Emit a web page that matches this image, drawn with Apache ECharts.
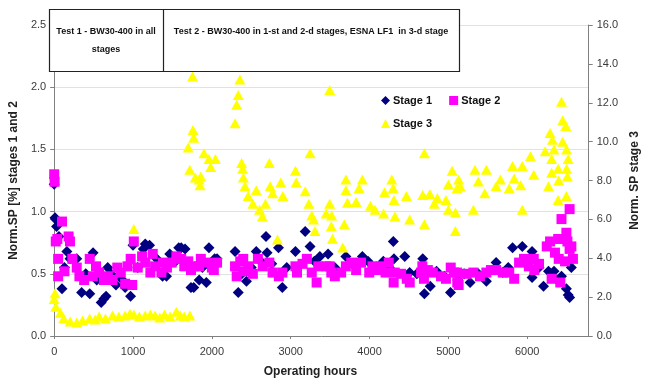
<!DOCTYPE html>
<html><head><meta charset="utf-8">
<script src="https://cdn.jsdelivr.net/npm/echarts@6/dist/echarts.min.js"></script>
<style>html,body{margin:0;padding:0;background:#fff}#c{width:649px;height:383px}</style>
</head><body><div id="c"></div>
<script>
// ---- Data ----
const xTicks = [0, 1000, 2000, 3000, 4000, 5000, 6000];
const leftTicks = [0.0, 0.5, 1.0, 1.5, 2.0, 2.5];
const rightTicks = [0, 2, 4, 6, 8, 10, 12, 14, 16];

const stage1Hours = [0,10,16,30,60,99,130,161,200,286,348,400,451,493,540,596,630,658,679,720,783,850,900,969,1000,1060,1130,1155,1210,1300,1375,1425,1466,1540,1580,1611,1660,1735,1770,1839,1880,1930,1963,2035,2066,2294,2335,2380,2439,2500,2563,2620,2687,2700,2760,2845,2894,2950,3060,3184,3246,3300,3370,3474,3560,3700,3780,3909,3981,4080,4175,4250,4302,4310,4447,4509,4600,4675,4696,4770,4850,4950,5027,5120,5200,5275,5380,5482,5606,5690,5760,5814,5938,6000,6062,6062,6150,6207,6270,6340,6380,6435,6497,6520,6538,6560];
const stage1Values = [1.22,0.95,0.94,0.88,0.80,0.38,0.55,0.68,0.62,0.62,0.35,0.50,0.34,0.67,0.45,0.27,0.30,0.32,0.55,0.50,0.41,0.46,0.39,0.32,0.73,0.55,0.70,0.74,0.73,0.62,0.48,0.48,0.66,0.60,0.71,0.71,0.70,0.39,0.39,0.45,0.55,0.43,0.71,0.62,0.62,0.68,0.35,0.50,0.44,0.55,0.68,0.60,0.80,0.67,0.58,0.71,0.39,0.55,0.68,0.84,0.72,0.60,0.64,0.66,0.55,0.64,0.58,0.64,0.60,0.55,0.60,0.55,0.76,0.62,0.64,0.51,0.50,0.62,0.34,0.40,0.52,0.48,0.35,0.45,0.50,0.43,0.50,0.44,0.59,0.51,0.55,0.71,0.72,0.58,0.68,0.47,0.55,0.40,0.52,0.52,0.45,0.48,0.38,0.33,0.31,0.55];

const stage2Hours = [0,5,20,40,50,50,99,130,183,200,230,286,320,380,451,490,530,570,630,680,740,800,845,900,930,970,990,1010,1060,1115,1155,1220,1250,1280,1360,1380,1430,1490,1550,1611,1650,1700,1735,1776,1839,1860,1940,2000,2025,2066,2294,2315,2360,2398,2400,2460,2520,2584,2646,2729,2770,2850,2894,3060,3080,3150,3205,3267,3329,3350,3453,3495,3515,3560,3640,3700,3768,3830,3892,3996,4037,4100,4140,4203,4244,4306,4320,4400,4472,4510,4654,4670,4690,4740,4803,4907,4969,5030,5072,5110,5113,5130,5230,5317,5400,5482,5540,5606,5690,5772,5835,5897,5959,6021,6083,6090,6150,6248,6290,6310,6352,6393,6400,6420,6435,6480,6497,6510,6538,6538,6560,6580];
const stage2Values = [1.30,1.24,0.76,0.78,0.62,0.48,0.92,0.52,0.80,0.76,0.62,0.55,0.48,0.45,0.62,0.48,0.56,0.51,0.45,0.48,0.45,0.55,0.51,0.42,0.56,0.62,0.41,0.76,0.55,0.64,0.59,0.51,0.66,0.56,0.51,0.59,0.55,0.59,0.64,0.62,0.56,0.60,0.53,0.56,0.56,0.62,0.59,0.55,0.53,0.59,0.56,0.48,0.60,0.62,0.52,0.56,0.50,0.62,0.56,0.59,0.51,0.48,0.51,0.56,0.51,0.58,0.62,0.51,0.43,0.56,0.56,0.56,0.51,0.48,0.51,0.56,0.59,0.53,0.59,0.51,0.56,0.53,0.56,0.51,0.59,0.43,0.51,0.50,0.46,0.43,0.51,0.56,0.46,0.53,0.51,0.48,0.46,0.55,0.51,0.51,0.43,0.41,0.50,0.51,0.48,0.51,0.53,0.53,0.51,0.51,0.46,0.59,0.62,0.56,0.62,0.53,0.58,0.72,0.76,0.46,0.67,0.78,0.62,0.43,0.94,0.60,0.83,0.76,0.70,1.02,0.72,0.62];

const stage3Hours = [0,10,20,79,120,203,286,360,450,520,570,650,740,820,900,960,1010,1010,1080,1155,1220,1280,1340,1400,1470,1550,1600,1650,1720,1700,1720,1755,1760,1770,1790,1839,1860,1850,1900,1963,1985,2045,2294,2315,2335,2356,2377,2390,2400,2420,2460,2520,2563,2605,2640,2680,2729,2740,2770,2832,2874,2900,3060,3070,3184,3230,3246,3267,3267,3290,3308,3450,3495,3495,3515,3530,3520,3660,3680,3700,3700,3720,3830,3867,3909,4012,4070,4178,4190,4282,4300,4310,4323,4468,4509,4675,4696,4696,4765,4820,4860,4969,5000,5000,5048,5089,5110,5130,5150,5090,5317,5337,5380,5462,5482,5606,5660,5772,5814,5835,5917,5938,5938,6041,6083,6228,6270,6290,6320,6340,6310,6310,6393,6393,6400,6435,6450,6450,6490,6500,6520,6500,6510,6497];
const stage3Values = [1.9,2.2,1.5,1.2,0.9,0.75,0.7,0.8,0.9,0.85,1.0,0.9,1.05,1.0,1.05,1.15,5.5,1.1,1.0,1.05,1.1,1.05,0.95,1.1,1.0,1.25,1.05,1.0,1.05,9.7,8.55,13.35,10.6,10.2,8.15,8.05,8.2,7.75,9.4,9.1,8.7,9.1,10.95,11.9,12.4,13.2,8.9,8.6,8.15,7.7,7.2,6.8,7.5,6.5,6.15,6.8,8.9,7.7,7.35,4.97,7.9,7.2,8.5,7.9,7.45,6.8,9.4,6.2,14.2,6.0,5.4,6.3,12.65,6.8,5.65,5.0,6.2,4.55,5.75,8.05,7.5,6.85,6.9,7.6,8.05,6.7,6.5,6.3,7.4,8.05,7.6,7.0,6.15,7.2,6.0,7.25,9.4,5.75,7.3,6.8,7.1,7.0,6.5,7.8,8.5,5.4,7.6,8.05,7.7,6.35,6.5,8.55,7.95,7.35,8.55,7.7,8.05,7.6,8.75,8.1,7.75,6.5,8.75,9.25,8.3,9.5,7.7,10.45,10.1,9.6,9.1,8.4,7.0,8.6,8.0,12.05,11.1,10.0,10.8,9.6,9.1,8.6,8.2,7.2];

const seriesNames = ['Stage 1', 'Stage 2', 'Stage 3'];
const boxText1 = 'Test 1 - BW30-400 in all\nstages';
const boxText2 = 'Test 2 - BW30-400 in 1-st and 2-d stages, ESNA LF1  in 3-d stage';

// ---- Build ----
const zip = (xs, ys) => xs.map((x, i) => [x, ys[i]]);
const FONT = '"Liberation Sans", Arial, sans-serif';
const chart = echarts.init(document.getElementById('c'), null, {renderer: 'canvas'});

const axisLabelStyle = {color: '#3a3a3a', fontFamily: FONT, fontSize: 11};
const axisLineStyle = {show: true, lineStyle: {color: '#808080', width: 1}};

chart.setOption({
  animation: false,
  backgroundColor: '#fff',
  grid: {left: 52, right: 51, top: 25, bottom: 46, containLabel: false},
  xAxis: {
    type: 'value', min: 0, max: 6780, interval: 1000,
    name: 'Operating hours', nameLocation: 'middle', nameGap: 30,
    nameTextStyle: {fontFamily: FONT, fontSize: 12, fontWeight: 'bold', color: '#222', padding: [0, 22, 0, 0]},
    axisLine: axisLineStyle,
    axisTick: {show: true, length: 3, lineStyle: {color: '#808080'}},
    axisLabel: Object.assign({showMaxLabel: false, margin: 10,
      formatter: v => xTicks.includes(v) ? String(v) : ''}, axisLabelStyle),
    splitLine: {show: false}
  },
  yAxis: [{
    type: 'value', position: 'left', min: 0, max: 2.5, interval: 0.5,
    name: 'Norm.SP [%] stages 1 and 2', nameLocation: 'middle', nameGap: 33, nameRotate: 90,
    nameTextStyle: {fontFamily: FONT, fontSize: 12, fontWeight: 'bold', color: '#222'},
    axisLine: axisLineStyle,
    axisTick: {show: true, length: 4, lineStyle: {color: '#808080'}},
    axisLabel: Object.assign({formatter: v => leftTicks.includes(v) ? v.toFixed(1) : ''}, axisLabelStyle),
    splitLine: {show: true, lineStyle: {color: '#e2e2e2', width: 1}}
  }, {
    type: 'value', position: 'right', min: 0, max: 16, interval: 2,
    name: 'Norm. SP stage 3', nameLocation: 'middle', nameGap: 27, nameRotate: 90,
    nameTextStyle: {fontFamily: FONT, fontSize: 12, fontWeight: 'bold', color: '#222'},
    axisLine: axisLineStyle,
    axisTick: {show: true, length: 4, lineStyle: {color: '#808080'}},
    axisLabel: Object.assign({formatter: v => rightTicks.includes(v) ? v.toFixed(1) : ''}, axisLabelStyle),
    splitLine: {show: false}
  }],
  legend: [{
    data: [seriesNames[0], seriesNames[1]], left: 376, top: 90, orient: 'horizontal',
    itemWidth: 9, itemHeight: 9, itemGap: 17,
    textStyle: {fontFamily: FONT, fontSize: 11, fontWeight: 'bold', color: '#111', padding: [0, 0, 0, -2]}
  }, {
    data: [seriesNames[2]], left: 376, top: 113,
    itemWidth: 9, itemHeight: 9,
    textStyle: {fontFamily: FONT, fontSize: 11, fontWeight: 'bold', color: '#111', padding: [0, 0, 0, -2]}
  }],
  series: [{
    name: seriesNames[0], type: 'scatter', yAxisIndex: 0, symbol: 'diamond', symbolSize: 11,
    itemStyle: {color: '#000080', opacity: 1}, data: zip(stage1Hours, stage1Values)
  }, {
    name: seriesNames[1], type: 'scatter', yAxisIndex: 0, symbol: 'rect', symbolSize: 10,
    itemStyle: {color: '#ff00ff', opacity: 1}, data: zip(stage2Hours, stage2Values)
  }, {
    name: seriesNames[2], type: 'scatter', yAxisIndex: 1, symbol: 'triangle', symbolSize: [11, 10],
    itemStyle: {color: '#ffff00', opacity: 1}, data: zip(stage3Hours, stage3Values)
  }],
  graphic: [
    {type: 'rect', z: 100, shape: {x: 49.5, y: 9.5, width: 410, height: 62},
     style: {fill: '#fff', stroke: '#222', lineWidth: 1.2}},
    {type: 'line', z: 101, shape: {x1: 163.5, y1: 9.5, x2: 163.5, y2: 71.5}, style: {stroke: '#222', lineWidth: 1.2}},
    {type: 'text', z: 102, style: {text: boxText1, x: 106, y: 41, textAlign: 'center', textVerticalAlign: 'middle',
      font: 'bold 9px ' + FONT, fill: '#111', lineHeight: 18}},
    {type: 'text', z: 102, style: {text: boxText2, x: 311, y: 32, textAlign: 'center', textVerticalAlign: 'middle',
      font: 'bold 9px ' + FONT, fill: '#111'}}
  ]
});
</script>
</body></html>
